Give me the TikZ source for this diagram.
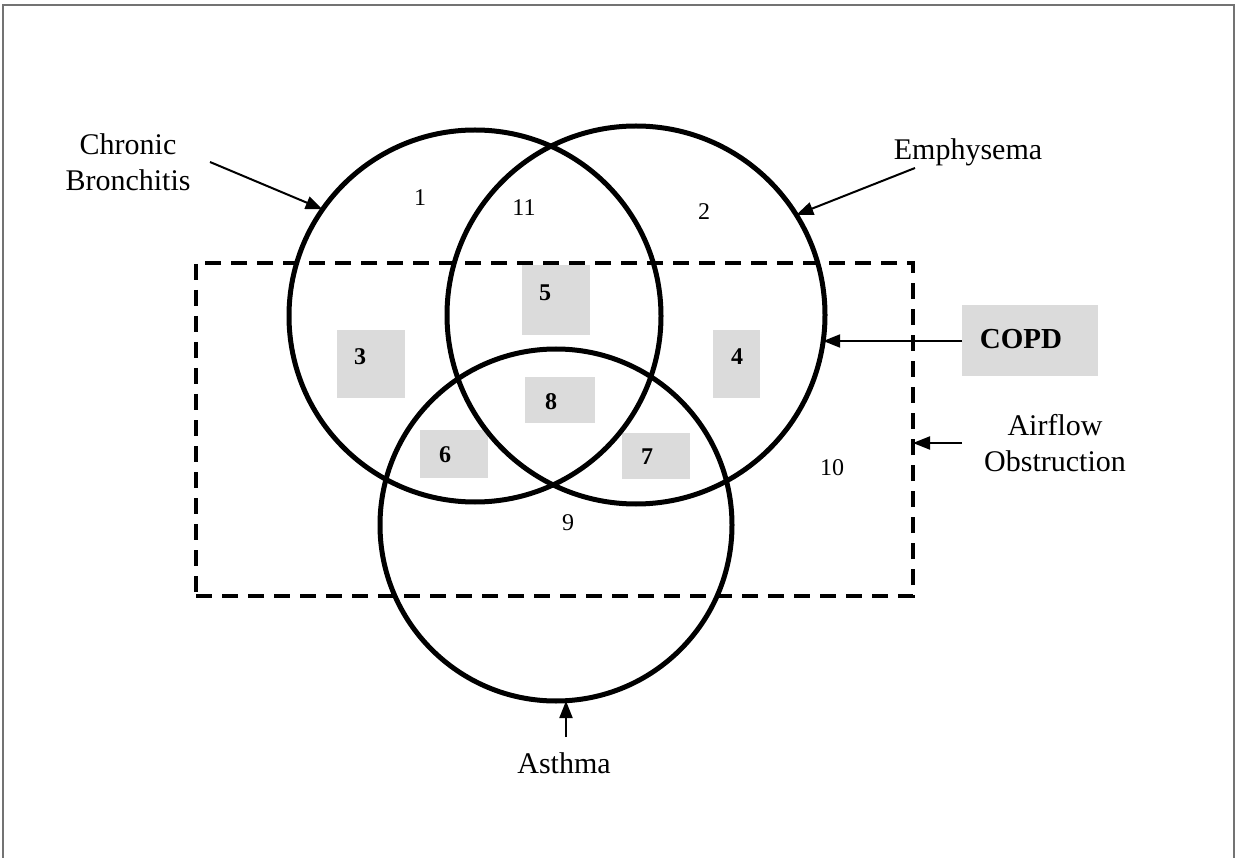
\documentclass[tikz,border=0pt]{standalone}
\usepackage{fontspec}
\setmainfont{Liberation Serif}
\usetikzlibrary{arrows.meta,calc}
\begin{document}
\begin{tikzpicture}[x=1pt,y=-1pt,
  lbl/.style={font=\fontsize{30}{36}\selectfont, align=center, inner sep=0},
  num/.style={font=\fontsize{24}{28}\selectfont, inner sep=0},
  bnum/.style={font=\fontsize{24}{28}\selectfont\bfseries, inner sep=0},
  graybox/.style={fill=black!14, draw=none, inner sep=0, outer sep=0},
  ring/.style={circle, draw, line width=5pt, inner sep=0, outer sep=0},
  pointer/.style={line width=2pt, -{Triangle[length=17pt,width=13pt]}},
  frameline/.style={black!55, line width=2pt}
]
\useasboundingbox (0,0) rectangle (1237,858);
\draw[frameline] (3,880) -- (3,5) -- (1234,5) -- (1234,880);

% grey region boxes
\node[graybox, minimum width=68pt, minimum height=70pt] (b5) at (556,300) {};
\node[graybox, minimum width=68pt, minimum height=68pt] (b3) at (371,364) {};
\node[graybox, minimum width=47pt, minimum height=68pt] (b4) at (736.5,364) {};
\node[graybox, minimum width=70pt, minimum height=46pt] (b8) at (560,400) {};
\node[graybox, minimum width=68pt, minimum height=48pt] (b6) at (454,454) {};
\node[graybox, minimum width=68pt, minimum height=46pt] (b7) at (656,456) {};

% airflow obstruction dashed box
\node[draw, dash pattern=on 16pt off 10pt, line width=4pt, minimum width=717pt,
      minimum height=333pt, inner sep=0, outer sep=0] (AO) at (554.5,429.5) {};

% circles
\node[ring, minimum size=372pt] (CB) at (475,316) {};
\node[ring, minimum size=378pt] (EM) at (636,315) {};
\node[ring, minimum size=352pt] (AS) at (556,525) {};

% region numbers
\node[num] (n1) at (420,198) {1};
\node[num] (n11) at (524,208) {11};
\node[num] (n2) at (704,212) {2};
\node[bnum] (n5) at (545,293) {5};
\node[bnum] (n3) at (360,357) {3};
\node[bnum] (n4) at (737,357) {4};
\node[bnum] (n8) at (551,402) {8};
\node[bnum] (n6) at (445,455) {6};
\node[bnum] (n7) at (647,457) {7};
\node[num] (n10) at (832,468) {10};
\node[num] (n9) at (568,523) {9};

% labels
\node[lbl] (tCB) at (128,162) {Chronic\\Bronchitis};
\node[lbl] (tEM) at (968,152) {Emphysema};
\node[graybox, minimum width=136pt, minimum height=71pt,
      font=\fontsize{29}{32}\selectfont\bfseries] (COPD) at (1030,341) {\raisebox{4pt}{COPD}\kern18pt};
\node[lbl] (tAO) at (1055,443) {Airflow\\Obstruction};
\node[lbl, anchor=base] (tAS) at (564,773) {Asthma};

% pointers
\coordinate (cbT) at (210,162);
\coordinate (emT) at (915,168);
\coordinate (aoT) at (962,443);
\coordinate (asT) at (566,737);
\draw[pointer] (cbT) -- (CB.145);
\draw[pointer] (emT) -- (EM.32);
\draw[pointer] (COPD.west) -- (COPD.west -| EM.-8);
\draw[pointer] (aoT) -- (aoT -| AO.east);
\draw[pointer] (asT) -- (asT |- AS.south);
\end{tikzpicture}
\end{document}
